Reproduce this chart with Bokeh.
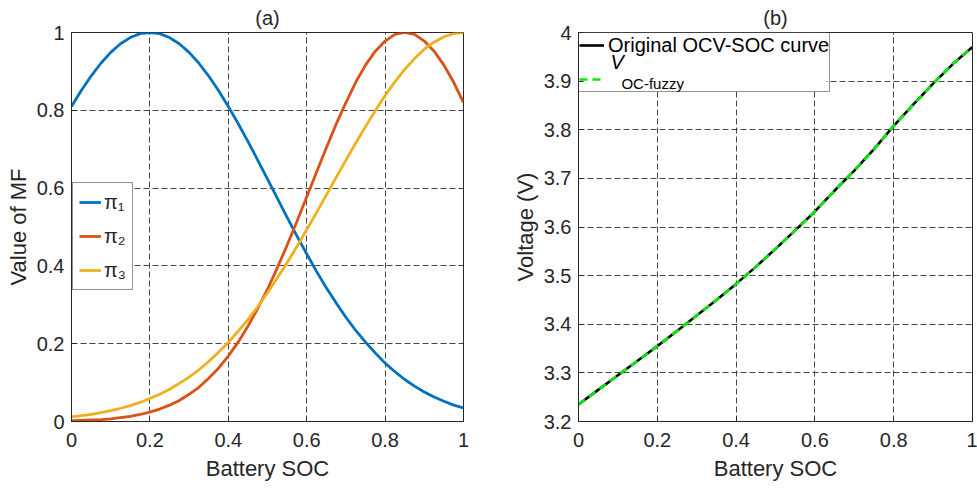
from bokeh.plotting import figure
from bokeh.layouts import row
from bokeh.models import FixedTicker, Legend, LegendItem, Label, Range1d, BoxAnnotation
from bokeh.embed import file_html
from bokeh.resources import INLINE

# ---------------- data ----------------
soc_mf = [0.000, 0.025, 0.050, 0.075, 0.100, 0.125, 0.150, 0.175, 0.200, 0.225,
          0.250, 0.275, 0.300, 0.325, 0.350, 0.375, 0.400, 0.425, 0.450, 0.475,
          0.500, 0.525, 0.550, 0.575, 0.600, 0.625, 0.650, 0.675, 0.700, 0.725,
          0.750, 0.775, 0.800, 0.825, 0.850, 0.875, 0.900, 0.925, 0.950, 0.975, 1.000]
pi1 = [0.810, 0.851, 0.888, 0.921, 0.949, 0.971, 0.987, 0.997, 1.000, 0.997,
       0.987, 0.971, 0.949, 0.921, 0.888, 0.851, 0.810, 0.766, 0.720, 0.672,
       0.623, 0.574, 0.525, 0.477, 0.431, 0.386, 0.344, 0.305, 0.268, 0.234,
       0.204, 0.176, 0.150, 0.128, 0.108, 0.091, 0.076, 0.063, 0.052, 0.042, 0.035]
pi2 = [0.002, 0.003, 0.004, 0.005, 0.007, 0.010, 0.013, 0.018, 0.024, 0.032,
       0.042, 0.054, 0.070, 0.088, 0.111, 0.137, 0.168, 0.204, 0.245, 0.290,
       0.340, 0.395, 0.453, 0.514, 0.577, 0.641, 0.703, 0.764, 0.820, 0.872,
       0.916, 0.952, 0.978, 0.995, 1.000, 0.995, 0.978, 0.952, 0.916, 0.872, 0.820]
pi3 = [0.012, 0.015, 0.018, 0.023, 0.028, 0.034, 0.041, 0.049, 0.059, 0.070,
       0.083, 0.098, 0.114, 0.133, 0.154, 0.178, 0.203, 0.232, 0.262, 0.295,
       0.331, 0.369, 0.408, 0.450, 0.493, 0.537, 0.582, 0.627, 0.672, 0.716,
       0.758, 0.799, 0.838, 0.873, 0.905, 0.933, 0.957, 0.975, 0.989, 0.997, 1.000]

soc_ocv = [0.00, 0.05, 0.10, 0.15, 0.20, 0.25, 0.30, 0.35, 0.40, 0.45, 0.50,
           0.55, 0.60, 0.65, 0.70, 0.75, 0.80, 0.85, 0.90, 0.95, 1.00]
ocv_original = [3.235, 3.265, 3.295, 3.325, 3.355, 3.386, 3.418, 3.450, 3.483, 3.518, 3.555,
                3.593, 3.632, 3.675, 3.716, 3.760, 3.808, 3.852, 3.895, 3.935, 3.970]
ocv_fuzzy = [3.235, 3.265, 3.295, 3.325, 3.355, 3.386, 3.418, 3.450, 3.483, 3.518, 3.555,
             3.593, 3.632, 3.675, 3.716, 3.760, 3.808, 3.852, 3.895, 3.935, 3.970]

x_ticks = [0, 0.2, 0.4, 0.6, 0.8, 1]
x_tick_labels = ["0", "0.2", "0.4", "0.6", "0.8", "1"]
mf_ticks = [0, 0.2, 0.4, 0.6, 0.8, 1]
mf_tick_labels = ["0", "0.2", "0.4", "0.6", "0.8", "1"]
v_ticks = [3.2, 3.3, 3.4, 3.5, 3.6, 3.7, 3.8, 3.9, 4.0]
v_tick_labels = ["3.2", "3.3", "3.4", "3.5", "3.6", "3.7", "3.8", "3.9", "4"]

mf_names = ["\u03c0\u2081", "\u03c0\u2082", "\u03c0\u2083"]
ocv_names = ["Original OCV-SOC curve", "V", "OC-fuzzy"]
titles = ["(a)", "(b)"]
FONT = "Liberation Sans"
TXT = "#262626"


def style(p, title, xlabel, ylabel, xt, xtl, yt, ytl):
    p.title.text = title
    p.title.align = "center"
    p.title.text_font = FONT
    p.title.text_font_size = "20px"
    p.title.text_font_style = "normal"
    p.title.text_color = TXT
    p.title.standoff = 8
    p.xaxis.axis_label = xlabel
    p.yaxis.axis_label = ylabel
    p.xaxis.ticker = FixedTicker(ticks=xt)
    p.yaxis.ticker = FixedTicker(ticks=yt)
    p.xaxis.major_label_overrides = {t: l for t, l in zip(xt, xtl)}
    p.yaxis.major_label_overrides = {t: l for t, l in zip(yt, ytl)}
    for ax in (p.xaxis, p.yaxis):
        ax.axis_label_text_font = FONT
        ax.axis_label_text_font_size = "22px"
        ax.axis_label_text_font_style = "normal"
        ax.axis_label_text_color = TXT
        ax.major_label_text_font = FONT
        ax.major_label_text_font_size = "20px"
        ax.major_label_text_color = TXT
        ax.major_tick_in = 5
        ax.major_tick_out = 0
        ax.minor_tick_line_color = None
        ax.axis_line_color = TXT
        ax.major_tick_line_color = TXT
    p.xaxis.major_label_standoff = 11
    p.yaxis.major_label_standoff = 7
    p.xaxis.axis_label_standoff = 6
    p.yaxis.axis_label_standoff = 3
    p.grid.grid_line_color = "#262626"
    p.grid.grid_line_dash = "6 3"
    p.grid.grid_line_alpha = 0.85
    p.grid.grid_line_width = 1
    p.outline_line_color = TXT
    p.outline_line_width = 1
    p.outline_line_alpha = 1


# ---------------- panel (a) ----------------
pa = figure(width=505, height=488, output_backend="svg", toolbar_location=None,
            x_range=Range1d(0, 1), y_range=Range1d(0, 1),
            min_border_left=71, min_border_right=42, min_border_top=30, min_border_bottom=67)
style(pa, titles[0], "Battery SOC", "Value of MF", x_ticks, x_tick_labels, mf_ticks, mf_tick_labels)

colors = ["#0072BD", "#D95319", "#EDB120"]
rs = []
for ys, c in zip([pi1, pi2, pi3], colors):
    rs.append(pa.line(soc_mf, ys, line_color=c, line_width=2.8, line_join="round"))

leg_a = Legend(items=[LegendItem(label=n, renderers=[r]) for n, r in zip(mf_names, rs)],
               location=(1, 131), margin=0, padding=6, spacing=8,
               glyph_width=22, glyph_height=26, label_height=26, label_standoff=3,
               label_text_font=FONT, label_text_font_size="20px", label_text_color=TXT,
               border_line_color=TXT, border_line_width=1, background_fill_alpha=1)
pa.add_layout(leg_a)

# ---------------- panel (b) ----------------
pb = figure(width=472, height=488, output_backend="svg", toolbar_location=None,
            x_range=Range1d(0, 1), y_range=Range1d(3.2, 4.0),
            min_border_left=73, min_border_right=5, min_border_top=30, min_border_bottom=67)
style(pb, titles[1], "Battery SOC", "Voltage (V)", x_ticks, x_tick_labels, v_ticks, v_tick_labels)

# white backing behind the (transparent) legend so grid lines do not show through
pb.add_layout(BoxAnnotation(left=0, right=0.63, top=4.0, bottom=3.878,
                            fill_color="white", fill_alpha=1, line_color=None,
                            level="underlay"))

r_orig = pb.line(soc_ocv, ocv_original, line_color="black", line_width=2.6)
r_fuzzy = pb.line(soc_ocv, ocv_fuzzy, line_color="#00ee00", line_width=2.6, line_dash="8 5")

leg_b = Legend(items=[LegendItem(label=ocv_names[0], renderers=[r_orig]),
                      LegendItem(label=" ", renderers=[r_fuzzy])],
               location="top_left", margin=0, padding=0, spacing=10,
               glyph_width=25, glyph_height=24, label_height=24, label_standoff=4,
               label_text_font=FONT, label_text_font_size="20px", label_text_color="black",
               border_line_color=TXT, border_line_width=1, background_fill_alpha=0)
pb.add_layout(leg_b)

pb.add_layout(Label(x=0.081, y=3.939, text=ocv_names[1], text_font=FONT,
                    text_font_size="20px", text_font_style="italic", text_color="black",
                    text_baseline="alphabetic"))
pb.add_layout(Label(x=0.109, y=3.896, text=ocv_names[2], text_font=FONT,
                    text_font_size="15px", text_color="black", text_baseline="alphabetic"))

layout = row(pa, pb)
open("out.html", "w").write(file_html(layout, INLINE))
